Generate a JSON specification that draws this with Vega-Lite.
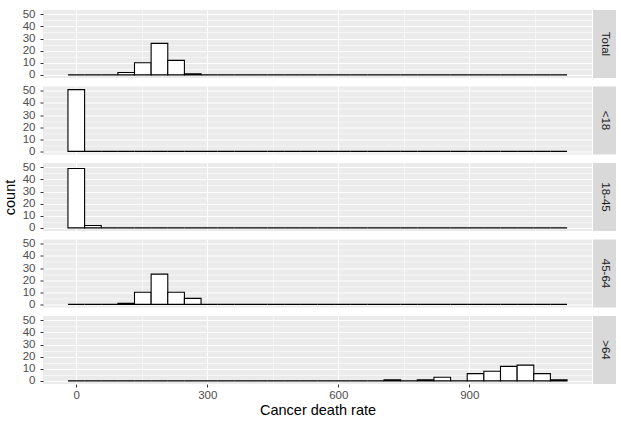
{
  "$schema": "https://vega.github.io/schema/vega-lite/v6.json",
  "background": "white",
  "padding": {"left": 2, "top": 8, "right": 5, "bottom": 4},
  "config": {
    "font": "Liberation Sans",
    "view": {"stroke": null, "fill": "#EBEBEB"},
    "axis": {
      "domain": false,
      "gridColor": "white",
      "labelColor": "#4D4D4D",
      "labelFontSize": 11.5,
      "labelPadding": 2,
      "labelOverlap": false,
      "labelFlush": false,
      "tickColor": "#333333",
      "tickSize": 3,
      "tickWidth": 1,
      "titleColor": "black",
      "titleFontSize": 14.5,
      "titleFontWeight": "normal"
    },
    "axisY": {"labelPadding": 5}
  },
  "datasets": {
    "bins": [
      {"group":"Total","lo":-19.05,"hi":19.05,"count":0},
      {"group":"Total","lo":19.05,"hi":57.15,"count":0},
      {"group":"Total","lo":57.15,"hi":95.25,"count":0},
      {"group":"Total","lo":95.25,"hi":133.35,"count":2},
      {"group":"Total","lo":133.35,"hi":171.45,"count":10},
      {"group":"Total","lo":171.45,"hi":209.55,"count":26},
      {"group":"Total","lo":209.55,"hi":247.65,"count":12},
      {"group":"Total","lo":247.65,"hi":285.75,"count":1},
      {"group":"Total","lo":285.75,"hi":323.85,"count":0},
      {"group":"Total","lo":323.85,"hi":361.95,"count":0},
      {"group":"Total","lo":361.95,"hi":400.05,"count":0},
      {"group":"Total","lo":400.05,"hi":438.15,"count":0},
      {"group":"Total","lo":438.15,"hi":476.25,"count":0},
      {"group":"Total","lo":476.25,"hi":514.35,"count":0},
      {"group":"Total","lo":514.35,"hi":552.45,"count":0},
      {"group":"Total","lo":552.45,"hi":590.55,"count":0},
      {"group":"Total","lo":590.55,"hi":628.65,"count":0},
      {"group":"Total","lo":628.65,"hi":666.75,"count":0},
      {"group":"Total","lo":666.75,"hi":704.85,"count":0},
      {"group":"Total","lo":704.85,"hi":742.95,"count":0},
      {"group":"Total","lo":742.95,"hi":781.05,"count":0},
      {"group":"Total","lo":781.05,"hi":819.15,"count":0},
      {"group":"Total","lo":819.15,"hi":857.25,"count":0},
      {"group":"Total","lo":857.25,"hi":895.35,"count":0},
      {"group":"Total","lo":895.35,"hi":933.45,"count":0},
      {"group":"Total","lo":933.45,"hi":971.55,"count":0},
      {"group":"Total","lo":971.55,"hi":1009.65,"count":0},
      {"group":"Total","lo":1009.65,"hi":1047.75,"count":0},
      {"group":"Total","lo":1047.75,"hi":1085.85,"count":0},
      {"group":"Total","lo":1085.85,"hi":1123.95,"count":0},

      {"group":"<18","lo":-19.05,"hi":19.05,"count":51},
      {"group":"<18","lo":19.05,"hi":57.15,"count":0},
      {"group":"<18","lo":57.15,"hi":95.25,"count":0},
      {"group":"<18","lo":95.25,"hi":133.35,"count":0},
      {"group":"<18","lo":133.35,"hi":171.45,"count":0},
      {"group":"<18","lo":171.45,"hi":209.55,"count":0},
      {"group":"<18","lo":209.55,"hi":247.65,"count":0},
      {"group":"<18","lo":247.65,"hi":285.75,"count":0},
      {"group":"<18","lo":285.75,"hi":323.85,"count":0},
      {"group":"<18","lo":323.85,"hi":361.95,"count":0},
      {"group":"<18","lo":361.95,"hi":400.05,"count":0},
      {"group":"<18","lo":400.05,"hi":438.15,"count":0},
      {"group":"<18","lo":438.15,"hi":476.25,"count":0},
      {"group":"<18","lo":476.25,"hi":514.35,"count":0},
      {"group":"<18","lo":514.35,"hi":552.45,"count":0},
      {"group":"<18","lo":552.45,"hi":590.55,"count":0},
      {"group":"<18","lo":590.55,"hi":628.65,"count":0},
      {"group":"<18","lo":628.65,"hi":666.75,"count":0},
      {"group":"<18","lo":666.75,"hi":704.85,"count":0},
      {"group":"<18","lo":704.85,"hi":742.95,"count":0},
      {"group":"<18","lo":742.95,"hi":781.05,"count":0},
      {"group":"<18","lo":781.05,"hi":819.15,"count":0},
      {"group":"<18","lo":819.15,"hi":857.25,"count":0},
      {"group":"<18","lo":857.25,"hi":895.35,"count":0},
      {"group":"<18","lo":895.35,"hi":933.45,"count":0},
      {"group":"<18","lo":933.45,"hi":971.55,"count":0},
      {"group":"<18","lo":971.55,"hi":1009.65,"count":0},
      {"group":"<18","lo":1009.65,"hi":1047.75,"count":0},
      {"group":"<18","lo":1047.75,"hi":1085.85,"count":0},
      {"group":"<18","lo":1085.85,"hi":1123.95,"count":0},

      {"group":"18-45","lo":-19.05,"hi":19.05,"count":49},
      {"group":"18-45","lo":19.05,"hi":57.15,"count":2},
      {"group":"18-45","lo":57.15,"hi":95.25,"count":0},
      {"group":"18-45","lo":95.25,"hi":133.35,"count":0},
      {"group":"18-45","lo":133.35,"hi":171.45,"count":0},
      {"group":"18-45","lo":171.45,"hi":209.55,"count":0},
      {"group":"18-45","lo":209.55,"hi":247.65,"count":0},
      {"group":"18-45","lo":247.65,"hi":285.75,"count":0},
      {"group":"18-45","lo":285.75,"hi":323.85,"count":0},
      {"group":"18-45","lo":323.85,"hi":361.95,"count":0},
      {"group":"18-45","lo":361.95,"hi":400.05,"count":0},
      {"group":"18-45","lo":400.05,"hi":438.15,"count":0},
      {"group":"18-45","lo":438.15,"hi":476.25,"count":0},
      {"group":"18-45","lo":476.25,"hi":514.35,"count":0},
      {"group":"18-45","lo":514.35,"hi":552.45,"count":0},
      {"group":"18-45","lo":552.45,"hi":590.55,"count":0},
      {"group":"18-45","lo":590.55,"hi":628.65,"count":0},
      {"group":"18-45","lo":628.65,"hi":666.75,"count":0},
      {"group":"18-45","lo":666.75,"hi":704.85,"count":0},
      {"group":"18-45","lo":704.85,"hi":742.95,"count":0},
      {"group":"18-45","lo":742.95,"hi":781.05,"count":0},
      {"group":"18-45","lo":781.05,"hi":819.15,"count":0},
      {"group":"18-45","lo":819.15,"hi":857.25,"count":0},
      {"group":"18-45","lo":857.25,"hi":895.35,"count":0},
      {"group":"18-45","lo":895.35,"hi":933.45,"count":0},
      {"group":"18-45","lo":933.45,"hi":971.55,"count":0},
      {"group":"18-45","lo":971.55,"hi":1009.65,"count":0},
      {"group":"18-45","lo":1009.65,"hi":1047.75,"count":0},
      {"group":"18-45","lo":1047.75,"hi":1085.85,"count":0},
      {"group":"18-45","lo":1085.85,"hi":1123.95,"count":0},

      {"group":"45-64","lo":-19.05,"hi":19.05,"count":0},
      {"group":"45-64","lo":19.05,"hi":57.15,"count":0},
      {"group":"45-64","lo":57.15,"hi":95.25,"count":0},
      {"group":"45-64","lo":95.25,"hi":133.35,"count":1},
      {"group":"45-64","lo":133.35,"hi":171.45,"count":10},
      {"group":"45-64","lo":171.45,"hi":209.55,"count":25},
      {"group":"45-64","lo":209.55,"hi":247.65,"count":10},
      {"group":"45-64","lo":247.65,"hi":285.75,"count":5},
      {"group":"45-64","lo":285.75,"hi":323.85,"count":0},
      {"group":"45-64","lo":323.85,"hi":361.95,"count":0},
      {"group":"45-64","lo":361.95,"hi":400.05,"count":0},
      {"group":"45-64","lo":400.05,"hi":438.15,"count":0},
      {"group":"45-64","lo":438.15,"hi":476.25,"count":0},
      {"group":"45-64","lo":476.25,"hi":514.35,"count":0},
      {"group":"45-64","lo":514.35,"hi":552.45,"count":0},
      {"group":"45-64","lo":552.45,"hi":590.55,"count":0},
      {"group":"45-64","lo":590.55,"hi":628.65,"count":0},
      {"group":"45-64","lo":628.65,"hi":666.75,"count":0},
      {"group":"45-64","lo":666.75,"hi":704.85,"count":0},
      {"group":"45-64","lo":704.85,"hi":742.95,"count":0},
      {"group":"45-64","lo":742.95,"hi":781.05,"count":0},
      {"group":"45-64","lo":781.05,"hi":819.15,"count":0},
      {"group":"45-64","lo":819.15,"hi":857.25,"count":0},
      {"group":"45-64","lo":857.25,"hi":895.35,"count":0},
      {"group":"45-64","lo":895.35,"hi":933.45,"count":0},
      {"group":"45-64","lo":933.45,"hi":971.55,"count":0},
      {"group":"45-64","lo":971.55,"hi":1009.65,"count":0},
      {"group":"45-64","lo":1009.65,"hi":1047.75,"count":0},
      {"group":"45-64","lo":1047.75,"hi":1085.85,"count":0},
      {"group":"45-64","lo":1085.85,"hi":1123.95,"count":0},

      {"group":">64","lo":-19.05,"hi":19.05,"count":0},
      {"group":">64","lo":19.05,"hi":57.15,"count":0},
      {"group":">64","lo":57.15,"hi":95.25,"count":0},
      {"group":">64","lo":95.25,"hi":133.35,"count":0},
      {"group":">64","lo":133.35,"hi":171.45,"count":0},
      {"group":">64","lo":171.45,"hi":209.55,"count":0},
      {"group":">64","lo":209.55,"hi":247.65,"count":0},
      {"group":">64","lo":247.65,"hi":285.75,"count":0},
      {"group":">64","lo":285.75,"hi":323.85,"count":0},
      {"group":">64","lo":323.85,"hi":361.95,"count":0},
      {"group":">64","lo":361.95,"hi":400.05,"count":0},
      {"group":">64","lo":400.05,"hi":438.15,"count":0},
      {"group":">64","lo":438.15,"hi":476.25,"count":0},
      {"group":">64","lo":476.25,"hi":514.35,"count":0},
      {"group":">64","lo":514.35,"hi":552.45,"count":0},
      {"group":">64","lo":552.45,"hi":590.55,"count":0},
      {"group":">64","lo":590.55,"hi":628.65,"count":0},
      {"group":">64","lo":628.65,"hi":666.75,"count":0},
      {"group":">64","lo":666.75,"hi":704.85,"count":0},
      {"group":">64","lo":704.85,"hi":742.95,"count":1},
      {"group":">64","lo":742.95,"hi":781.05,"count":0},
      {"group":">64","lo":781.05,"hi":819.15,"count":1},
      {"group":">64","lo":819.15,"hi":857.25,"count":3},
      {"group":">64","lo":857.25,"hi":895.35,"count":0},
      {"group":">64","lo":895.35,"hi":933.45,"count":6},
      {"group":">64","lo":933.45,"hi":971.55,"count":8},
      {"group":">64","lo":971.55,"hi":1009.65,"count":12},
      {"group":">64","lo":1009.65,"hi":1047.75,"count":13},
      {"group":">64","lo":1047.75,"hi":1085.85,"count":6},
      {"group":">64","lo":1085.85,"hi":1123.95,"count":1}
    ]
  },
  "columns": 2,
  "bounds": "flush",
  "spacing": {"row": 8.5, "column": 1},
  "concat": [
    {
      "width": 549, "height": 68,
      "data": {"name": "bins"},
      "transform": [{"filter": "datum.group === 'Total'"}],
      "mark": {"type": "rect", "fill": "white", "stroke": "black", "strokeWidth": 1.1},
      "encoding": {
        "x": {"field": "lo", "type": "quantitative",
              "scale": {"domain": [-76.2, 1181.1], "nice": false, "zero": false},
              "axis": {"values": [0,150,300,450,600,750,900,1050], "labels": false, "ticks": false, "title": null,
                       "gridWidth": {"condition": {"test": "datum.value % 300 === 0", "value": 1.1}, "value": 0.55}}},
        "x2": {"field": "hi"},
        "y": {"field": "count", "type": "quantitative",
              "scale": {"domain": [-2.55, 53.55], "nice": false, "zero": false},
              "axis": {"values": [0,5,10,15,20,25,30,35,40,45,50], "title": "count", "titleColor": "transparent", "titlePadding": 5,
                       "labelExpr": "datum.value % 10 === 0 ? datum.label : ''",
                       "tickOpacity": {"condition": {"test": "datum.value % 10 === 0", "value": 1}, "value": 0},
                       "gridWidth": {"condition": {"test": "datum.value % 10 === 0", "value": 1.1}, "value": 0.55}}},
        "y2": {"datum": 0}
      }
    },
    {
      "width": 23, "height": 68,
      "view": {"fill": "#D9D9D9"},
      "data": {"name": "bins"},
      "transform": [{"filter": "datum.group === 'Total'"}, {"aggregate": [{"op": "count", "as": "bins"}], "groupby": ["group"]}],
      "mark": {"type": "text", "angle": 90, "fontSize": 11.5, "color": "#1A1A1A", "align": "center", "baseline": "middle"},
      "encoding": {"text": {"field": "group"}}
    },
    {
      "width": 549, "height": 68,
      "data": {"name": "bins"},
      "transform": [{"filter": "datum.group === '<18'"}],
      "mark": {"type": "rect", "fill": "white", "stroke": "black", "strokeWidth": 1.1},
      "encoding": {
        "x": {"field": "lo", "type": "quantitative",
              "scale": {"domain": [-76.2, 1181.1], "nice": false, "zero": false},
              "axis": {"values": [0,150,300,450,600,750,900,1050], "labels": false, "ticks": false, "title": null,
                       "gridWidth": {"condition": {"test": "datum.value % 300 === 0", "value": 1.1}, "value": 0.55}}},
        "x2": {"field": "hi"},
        "y": {"field": "count", "type": "quantitative",
              "scale": {"domain": [-2.55, 53.55], "nice": false, "zero": false},
              "axis": {"values": [0,5,10,15,20,25,30,35,40,45,50], "title": "count", "titleColor": "transparent", "titlePadding": 5,
                       "labelExpr": "datum.value % 10 === 0 ? datum.label : ''",
                       "tickOpacity": {"condition": {"test": "datum.value % 10 === 0", "value": 1}, "value": 0},
                       "gridWidth": {"condition": {"test": "datum.value % 10 === 0", "value": 1.1}, "value": 0.55}}},
        "y2": {"datum": 0}
      }
    },
    {
      "width": 23, "height": 68,
      "view": {"fill": "#D9D9D9"},
      "data": {"name": "bins"},
      "transform": [{"filter": "datum.group === '<18'"}, {"aggregate": [{"op": "count", "as": "bins"}], "groupby": ["group"]}],
      "mark": {"type": "text", "angle": 90, "fontSize": 11.5, "color": "#1A1A1A", "align": "center", "baseline": "middle"},
      "encoding": {"text": {"field": "group"}}
    },
    {
      "width": 549, "height": 68,
      "data": {"name": "bins"},
      "transform": [{"filter": "datum.group === '18-45'"}],
      "mark": {"type": "rect", "fill": "white", "stroke": "black", "strokeWidth": 1.1},
      "encoding": {
        "x": {"field": "lo", "type": "quantitative",
              "scale": {"domain": [-76.2, 1181.1], "nice": false, "zero": false},
              "axis": {"values": [0,150,300,450,600,750,900,1050], "labels": false, "ticks": false, "title": null,
                       "gridWidth": {"condition": {"test": "datum.value % 300 === 0", "value": 1.1}, "value": 0.55}}},
        "x2": {"field": "hi"},
        "y": {"field": "count", "type": "quantitative",
              "scale": {"domain": [-2.55, 53.55], "nice": false, "zero": false},
              "axis": {"values": [0,5,10,15,20,25,30,35,40,45,50], "title": "count", "titlePadding": 5,
                       "labelExpr": "datum.value % 10 === 0 ? datum.label : ''",
                       "tickOpacity": {"condition": {"test": "datum.value % 10 === 0", "value": 1}, "value": 0},
                       "gridWidth": {"condition": {"test": "datum.value % 10 === 0", "value": 1.1}, "value": 0.55}}},
        "y2": {"datum": 0}
      }
    },
    {
      "width": 23, "height": 68,
      "view": {"fill": "#D9D9D9"},
      "data": {"name": "bins"},
      "transform": [{"filter": "datum.group === '18-45'"}, {"aggregate": [{"op": "count", "as": "bins"}], "groupby": ["group"]}],
      "mark": {"type": "text", "angle": 90, "fontSize": 11.5, "color": "#1A1A1A", "align": "center", "baseline": "middle"},
      "encoding": {"text": {"field": "group"}}
    },
    {
      "width": 549, "height": 68,
      "data": {"name": "bins"},
      "transform": [{"filter": "datum.group === '45-64'"}],
      "mark": {"type": "rect", "fill": "white", "stroke": "black", "strokeWidth": 1.1},
      "encoding": {
        "x": {"field": "lo", "type": "quantitative",
              "scale": {"domain": [-76.2, 1181.1], "nice": false, "zero": false},
              "axis": {"values": [0,150,300,450,600,750,900,1050], "labels": false, "ticks": false, "title": null,
                       "gridWidth": {"condition": {"test": "datum.value % 300 === 0", "value": 1.1}, "value": 0.55}}},
        "x2": {"field": "hi"},
        "y": {"field": "count", "type": "quantitative",
              "scale": {"domain": [-2.55, 53.55], "nice": false, "zero": false},
              "axis": {"values": [0,5,10,15,20,25,30,35,40,45,50], "title": "count", "titleColor": "transparent", "titlePadding": 5,
                       "labelExpr": "datum.value % 10 === 0 ? datum.label : ''",
                       "tickOpacity": {"condition": {"test": "datum.value % 10 === 0", "value": 1}, "value": 0},
                       "gridWidth": {"condition": {"test": "datum.value % 10 === 0", "value": 1.1}, "value": 0.55}}},
        "y2": {"datum": 0}
      }
    },
    {
      "width": 23, "height": 68,
      "view": {"fill": "#D9D9D9"},
      "data": {"name": "bins"},
      "transform": [{"filter": "datum.group === '45-64'"}, {"aggregate": [{"op": "count", "as": "bins"}], "groupby": ["group"]}],
      "mark": {"type": "text", "angle": 90, "fontSize": 11.5, "color": "#1A1A1A", "align": "center", "baseline": "middle"},
      "encoding": {"text": {"field": "group"}}
    },
    {
      "width": 549, "height": 68,
      "data": {"name": "bins"},
      "transform": [{"filter": "datum.group === '>64'"}],
      "mark": {"type": "rect", "fill": "white", "stroke": "black", "strokeWidth": 1.1},
      "encoding": {
        "x": {"field": "lo", "type": "quantitative",
              "scale": {"domain": [-76.2, 1181.1], "nice": false, "zero": false},
              "axis": {"values": [0,150,300,450,600,750,900,1050], "title": "Cancer death rate", "titlePadding": 3,
                       "labelExpr": "datum.value % 300 === 0 ? datum.label : ''",
                       "tickOpacity": {"condition": {"test": "datum.value % 300 === 0", "value": 1}, "value": 0},
                       "gridWidth": {"condition": {"test": "datum.value % 300 === 0", "value": 1.1}, "value": 0.55}}},
        "x2": {"field": "hi"},
        "y": {"field": "count", "type": "quantitative",
              "scale": {"domain": [-2.55, 53.55], "nice": false, "zero": false},
              "axis": {"values": [0,5,10,15,20,25,30,35,40,45,50], "title": "count", "titleColor": "transparent", "titlePadding": 5,
                       "labelExpr": "datum.value % 10 === 0 ? datum.label : ''",
                       "tickOpacity": {"condition": {"test": "datum.value % 10 === 0", "value": 1}, "value": 0},
                       "gridWidth": {"condition": {"test": "datum.value % 10 === 0", "value": 1.1}, "value": 0.55}}},
        "y2": {"datum": 0}
      }
    },
    {
      "width": 23, "height": 68,
      "view": {"fill": "#D9D9D9"},
      "data": {"name": "bins"},
      "transform": [{"filter": "datum.group === '>64'"}, {"aggregate": [{"op": "count", "as": "bins"}], "groupby": ["group"]}],
      "mark": {"type": "text", "angle": 90, "fontSize": 11.5, "color": "#1A1A1A", "align": "center", "baseline": "middle"},
      "encoding": {"text": {"field": "group"}}
    }
  ]
}
